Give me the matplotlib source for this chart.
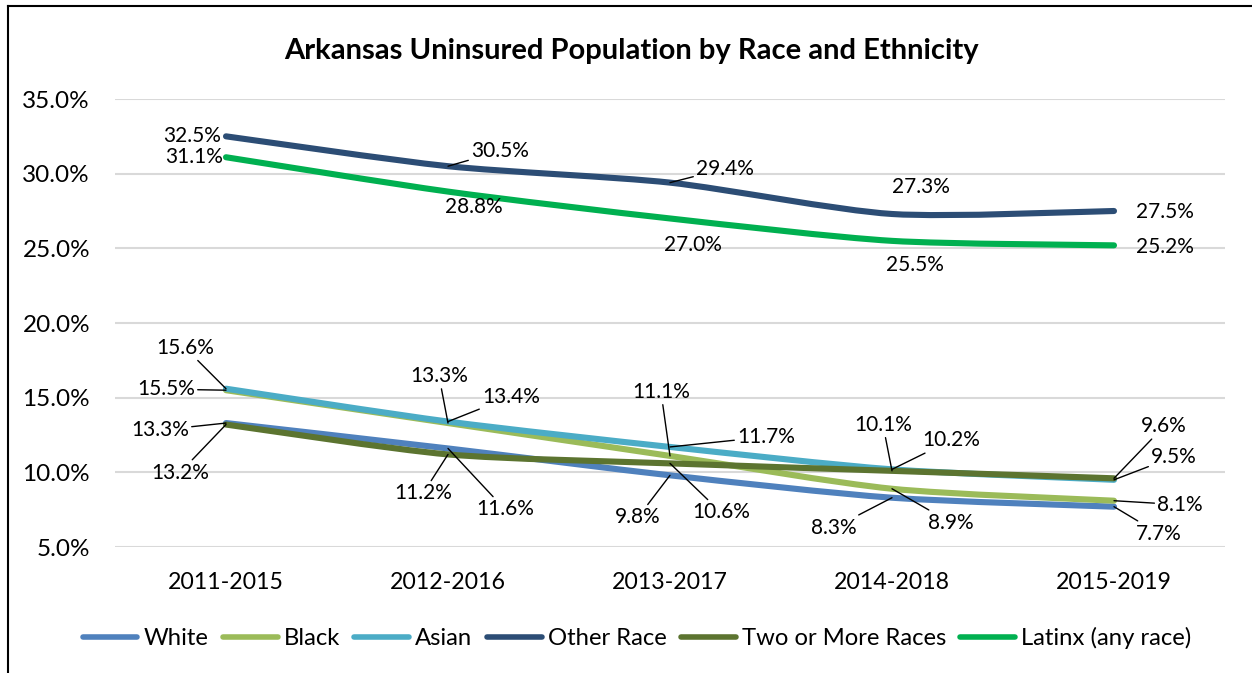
import numpy as np
import matplotlib
matplotlib.use("Agg")
import matplotlib.pyplot as plt
from matplotlib.path import Path
from matplotlib.patches import PathPatch
from matplotlib.lines import Line2D

plt.rcParams['font.family'] = ['Lato', 'DejaVu Sans']

# ---------------- data ----------------
periods = ["2011-2015", "2012-2016", "2013-2017", "2014-2018", "2015-2019"]
series_names = ["White", "Black", "Asian", "Other Race", "Two or More Races", "Latinx (any race)"]
white = [13.3, 11.6, 9.8, 8.3, 7.7]
black = [15.5, 13.3, 11.1, 8.9, 8.1]
asian = [15.6, 13.4, 11.7, 10.2, 9.5]
other_race = [32.5, 30.5, 29.4, 27.3, 27.5]
two_or_more = [13.2, 11.2, 10.6, 10.1, 9.6]
latinx = [31.1, 28.8, 27.0, 25.5, 25.2]
yticks = [5, 10, 15, 20, 25, 30, 35]
title = "Arkansas Uninsured Population by Race and Ethnicity"

# ---------------- styling / layout ----------------
colors = ["#4F81BD", "#9BBB59", "#4BACC6", "#2C4D75", "#5C7430", "#00B050"]
# label offsets in pixels (dx, dy) from each point, and whether a leader line is drawn
label_offsets = [
    [(-66, -7), (57, -61), (-32, -42), (-58, -30), (45, -27)],   # White
    [(-60, 1), (-9, 47), (-9, 64), (59, -34), (66, -4)],         # Black
    [(-41, 41), (63, 25), (96, 10), (59, 29), (60, 23)],         # Asian
    [(-34, 0), (52, 15), (55, 14), (29, 27), (51, -1)],          # Other Race
    [(-46, -48), (-25, -39), (51, -49), (-9, 46), (50, 52)],     # Two or More
    [(-32, 0), (26, -15), (23, -27), (23, -24), (51, -2)],       # Latinx
]
leaders = [
    [True] * 5,
    [True] * 5,
    [True] * 5,
    [False, True, True, False, False],
    [True] * 5,
    [False] * 5,
]
SMOOTH = 1 / 8.0

W, H = 1252, 673
fig = plt.figure(figsize=(W / 100, H / 100), dpi=100)
ax = fig.add_axes([115 / W, 1 - 547 / H, (1225 - 115) / W, (547 - 99) / H])

data = [white, black, asian, other_race, two_or_more, latinx]
x = np.arange(len(periods))


def smooth_path(xs, ys):
    pts = np.column_stack([xs, ys]).astype(float)
    n = len(pts)
    verts = [pts[0]]
    codes = [Path.MOVETO]
    for i in range(n - 1):
        p0 = pts[i - 1] if i > 0 else pts[i]
        p1 = pts[i]
        p2 = pts[i + 1]
        p3 = pts[i + 2] if i + 2 < n else pts[i + 1]
        c1 = p1 + (p2 - p0) * SMOOTH
        c2 = p2 - (p3 - p1) * SMOOTH
        verts += [c1, c2, p2]
        codes += [Path.CURVE4] * 3
    return Path(verts, codes)


handles = []
for name, vals, col in zip(series_names, data, colors):
    patch = PathPatch(smooth_path(x, vals), facecolor="none", edgecolor=col,
                      lw=4.4, capstyle="round", joinstyle="round", zorder=3)
    ax.add_patch(patch)
    handles.append(Line2D([], [], color=col, lw=4.0, solid_capstyle="round", label=name))

# data labels
for vals, offs, leads in zip(data, label_offsets, leaders):
    for xi, v, (dx, dy), lead in zip(x, vals, offs, leads):
        kw = {}
        if lead:
            kw["arrowprops"] = dict(arrowstyle="-", color="black", lw=1.0,
                                    shrinkA=0, shrinkB=0)
        ax.annotate(f"{v:.1f}%", xy=(xi, v), xytext=(dx, dy),
                    textcoords="offset pixels", ha="center", va="center",
                    fontsize=15, color="black", zorder=5, **kw)

ax.set_xlim(-0.5, len(periods) - 0.5)
ax.set_ylim(5, 35)
ax.set_yticks(yticks)
ax.set_yticklabels([f"{t:.1f}%" for t in yticks])
ax.set_xticks(x)
ax.set_xticklabels(periods)
ax.tick_params(axis="x", length=0, labelsize=16.7, colors="black", pad=18)
ax.tick_params(axis="y", length=0, labelsize=17.5, colors="black", pad=18)
ax.grid(axis="y", color="#D9D9D9", lw=1.5, zorder=0)
ax.set_axisbelow(True)
for s in ax.spines.values():
    s.set_visible(False)

fig.text(631 / W, 1 - 51 / H, title, ha="center", va="center",
         fontsize=21, fontweight="bold")

fig.legend(handles=handles, loc="center", bbox_to_anchor=(637 / W, 1 - 638 / H),
           ncol=6, frameon=False, fontsize=17.2, handlelength=2.3,
           handletextpad=0.25, columnspacing=0.6)

# chart border (left and top edges visible)
fig.add_artist(Line2D([7.5 / W, 7.5 / W], [0, 1 - 6 / H], color="black", lw=1.5,
                      transform=fig.transFigure))
fig.add_artist(Line2D([7.5 / W, 1], [1 - 6 / H, 1 - 6 / H], color="black", lw=1.5,
                      transform=fig.transFigure))

fig.savefig("out.png", dpi=100, facecolor="white")
